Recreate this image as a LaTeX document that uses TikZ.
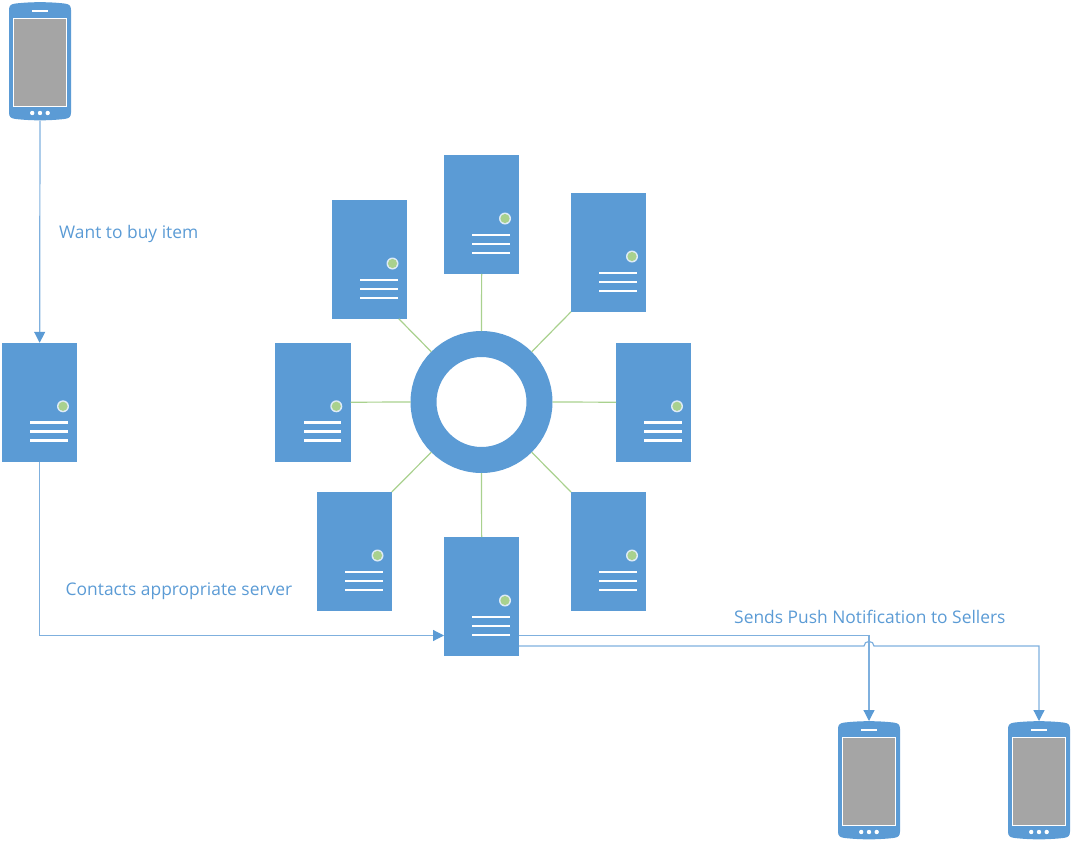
\documentclass[tikz,border=0pt]{standalone}
\usepackage{fontspec}
\setmainfont{Open Sans}
\usetikzlibrary{arrows.meta,calc}
\definecolor{mainblue}{HTML}{5B9BD5}
\definecolor{linkblue}{HTML}{7FB0DE}
\definecolor{ringgreen}{HTML}{A9D18E}
\definecolor{screengrey}{HTML}{A5A5A5}
\tikzset{
  serverbox/.style={rectangle,fill=mainblue,minimum width=75.3pt,minimum height=118.8pt,inner sep=0pt,outer sep=0pt,anchor=north west},
  phonebox/.style={rectangle,minimum width=62pt,minimum height=118.5pt,inner sep=0pt,outer sep=0pt,anchor=north west},
  greenlink/.style={draw=ringgreen,line width=1.2pt},
  flow/.style={draw=linkblue,line width=1.2pt,-{Triangle[length=11pt,width=11pt,color=mainblue]}},
  flowlabel/.style={text=mainblue,font=\fontsize{17.4pt}{19pt}\selectfont,anchor=base west,inner sep=0pt},
  ringnode/.style={circle,draw=mainblue,line width=26pt,minimum size=116pt,inner sep=0pt,fill=white}
}
\newcommand{\serverat}[3]{%
  \begin{scope}[shift={(#2,#3)}]
    \node[serverbox] (#1) at (0,0) {};
    \fill[mainblue!20!white] (61,63.5) circle (6);
    \fill[ringgreen] (61,63.5) circle (4.6);
    \fill[white] (28.3,78.6) rectangle (66,81.4);
    \fill[white] (28.3,87.6) rectangle (66,90.4);
    \fill[white] (28.3,96.6) rectangle (66,99.4);
  \end{scope}}
\newcommand{\phoneat}[3]{%
  \begin{scope}[shift={(#2,#3)}]
    \node[phonebox] (#1) at (0,0) {};
    \fill[mainblue] (0,8) .. controls (0,3.5) and (2,2.2) .. (6,1.6)
      .. controls (22,-0.3) and (40,-0.3) .. (56,1.6)
      .. controls (60,2.2) and (62,3.5) .. (62,8)
      -- (62,110.5) .. controls (62,115) and (60,116.3) .. (56,116.9)
      .. controls (40,118.8) and (22,118.8) .. (6,116.9)
      .. controls (2,116.3) and (0,115) .. (0,110.5) -- cycle;
    \fill[white] (3.8,15.6) rectangle (58.2,104.6);
    \fill[screengrey] (4.9,16.7) rectangle (57.1,103.5);
    \fill[white] (23.2,8.3) rectangle (39,9.8);
    \fill[white] (23.2,111) circle (2.2);
    \fill[white] (31,111) circle (2.2);
    \fill[white] (38.7,111) circle (2.2);
  \end{scope}}
\begin{document}
\begin{tikzpicture}[x=1pt,y=-1pt]
\useasboundingbox (0,0) rectangle (1072,841);
\phoneat{buyer}{9}{2}
\phoneat{sellera}{838}{721}
\phoneat{sellerb}{1008}{721}
\serverat{client}{2}{342.8}
\serverat{ul}{331.5}{200}
\serverat{top}{444}{155}
\serverat{ur}{571}{193}
\serverat{west}{275.3}{342.8}
\serverat{east}{616}{342.8}
\serverat{ll}{316.5}{492}
\serverat{lr}{571}{492}
\serverat{south}{444}{537}
\node[ringnode] (ring) at (481.5,402) {};
\draw[greenlink] (ring.90) -- (top.south);
\draw[greenlink] (ring.270) -- (south.north);
\draw[greenlink] (ring.180) -- (west.east);
\draw[greenlink] (ring.0) -- (east.west);
\draw[greenlink] (ring.135) -- ($(ul.south east)+(-8,0)$);
\draw[greenlink] (ring.45) -- (ur.south west);
\draw[greenlink] (ring.225) -- (ll.north east);
\draw[greenlink] (ring.315) -- (lr.north west);
\coordinate (inS) at (444,635.5);
\coordinate (outA) at (519,635.5);
\coordinate (outB) at (519,646);
\draw[flow] (buyer.south) -- (client.north);
\draw[flow] (client.south) |- (inS);
\draw[flow] (outA) -| (sellera.north);
\draw[flow] (outB) -- (864,646) .. controls (864,640) and (874,640) .. (874,646) -| (sellerb.north);
\node[flowlabel] (l1) at (59,238.2) {Want to buy item};
\node[flowlabel] (l2) at (65.5,595) {Contacts appropriate server};
\node[flowlabel] (l3) at (734,623) {Sends Push Notification to Sellers};
\end{tikzpicture}
\end{document}
